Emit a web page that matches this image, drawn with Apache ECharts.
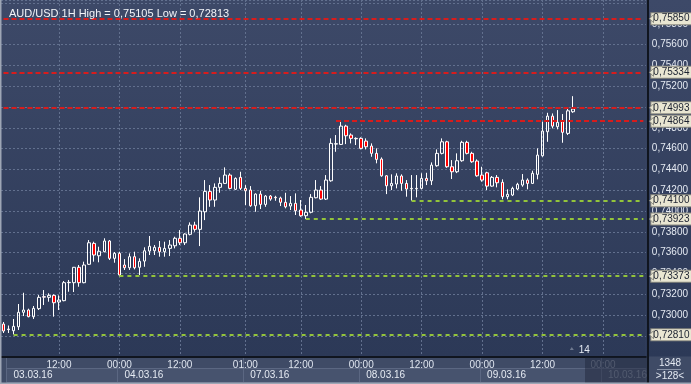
<!DOCTYPE html>
<html><head><meta charset="utf-8">
<script src="https://cdn.jsdelivr.net/npm/echarts@6/dist/echarts.min.js"></script>
<style>html,body{margin:0;padding:0;background:#3f4b66;overflow:hidden}#c{width:691px;height:384px}</style>
</head><body><div id="c"></div>
<script>
// ---- data ----
const titleText = 'AUD/USD 1H High = 0,75105 Low = 0,72813';
const slotCount = 128;            // hourly slots on the time axis (incl. empty future)
const tickIdx  = [11, 23, 35, 48, 59, 71, 83, 95, 107, 119];
const tickText = ['12:00','00:00','12:00','01:00','12:00','00:00','12:00','00:00','12:00','00:00'];
const dayStartIdx = [1, 23, 48, 71, 95, 119];
const dayText = ['03.03.16','04.03.16','07.03.16','08.03.16','09.03.16','10.03.16'];
const futureIdx = 116;
// candles: [open, close, low, high]
const candles = [
[0.72913,0.72846,0.72827,0.72933],[0.72865,0.72860,0.72827,0.72899],[0.72849,0.72891,0.72813,0.72962],
[0.72887,0.73026,0.72856,0.73106],[0.73026,0.73048,0.72990,0.73214],[0.73048,0.72984,0.72978,0.73061],
[0.72984,0.73064,0.72962,0.73087],[0.73061,0.73170,0.73048,0.73192],[0.73176,0.73172,0.73096,0.73240],
[0.73170,0.73189,0.73128,0.73209],[0.73189,0.73118,0.72984,0.73199],[0.73125,0.73144,0.73048,0.73189],
[0.73138,0.73311,0.73132,0.73327],[0.73311,0.73314,0.73224,0.73337],[0.73311,0.73459,0.73221,0.73462],
[0.73459,0.73311,0.73272,0.73481],[0.73311,0.73481,0.73305,0.73513],[0.73488,0.73695,0.73481,0.73721],
[0.73689,0.73577,0.73513,0.73705],[0.73570,0.73613,0.73507,0.73657],[0.73609,0.73712,0.73603,0.73738],
[0.73712,0.73545,0.73529,0.73721],[0.73545,0.73593,0.73503,0.73606],[0.73593,0.73385,0.73373,0.73609],
[0.73481,0.73455,0.73433,0.73538],[0.73455,0.73561,0.73433,0.73593],[0.73561,0.73455,0.73439,0.73609],
[0.73459,0.73516,0.73385,0.73545],[0.73519,0.73618,0.73464,0.73651],[0.73615,0.73661,0.73577,0.73760],
[0.73618,0.73651,0.73577,0.73673],[0.73651,0.73609,0.73561,0.73712],[0.73609,0.73641,0.73561,0.73705],
[0.73641,0.73673,0.73567,0.73721],[0.73666,0.73738,0.73641,0.73753],[0.73738,0.73695,0.73673,0.73817],
[0.73695,0.73779,0.73673,0.73786],[0.73776,0.73865,0.73766,0.73891],[0.73865,0.73824,0.73801,0.73897],
[0.73824,0.74000,0.73663,0.74132],[0.73993,0.74189,0.73913,0.74298],[0.74189,0.74106,0.74041,0.74250],
[0.74106,0.74228,0.74041,0.74266],[0.74228,0.74266,0.74176,0.74324],[0.74266,0.74346,0.74260,0.74420],
[0.74346,0.74218,0.74209,0.74363],[0.74209,0.74314,0.74202,0.74324],[0.74324,0.74218,0.74202,0.74378],
[0.74218,0.74195,0.74058,0.74250],[0.74202,0.74051,0.74041,0.74240],[0.74051,0.74163,0.73993,0.74170],
[0.74163,0.74064,0.74019,0.74195],[0.74064,0.74144,0.74041,0.74154],[0.74144,0.74115,0.74099,0.74154],
[0.74132,0.74128,0.74099,0.74147],[0.74125,0.74084,0.74048,0.74138],[0.74084,0.74041,0.74026,0.74176],
[0.74048,0.74074,0.74010,0.74144],[0.74074,0.74003,0.73962,0.74170],[0.74010,0.73955,0.73945,0.74106],
[0.73955,0.73988,0.73923,0.74058],[0.73988,0.74132,0.73978,0.74163],[0.74128,0.74202,0.74122,0.74298],
[0.74202,0.74115,0.74106,0.74240],[0.74115,0.74298,0.74106,0.74346],[0.74291,0.74651,0.74282,0.74699],
[0.74644,0.74648,0.74570,0.74731],[0.74641,0.74817,0.74635,0.74864],[0.74817,0.74724,0.74644,0.74830],
[0.74731,0.74699,0.74651,0.74747],[0.74699,0.74695,0.74635,0.74709],[0.74699,0.74603,0.74593,0.74709],
[0.74673,0.74618,0.74593,0.74699],[0.74625,0.74555,0.74522,0.74651],[0.74555,0.74497,0.74459,0.74603],
[0.74500,0.74339,0.74330,0.74516],[0.74339,0.74243,0.74163,0.74346],[0.74243,0.74266,0.74202,0.74353],
[0.74260,0.74337,0.74218,0.74363],[0.74337,0.74266,0.74195,0.74353],[0.74266,0.74212,0.74138,0.74298],
[0.74218,0.74214,0.74100,0.74346],[0.74214,0.74218,0.74132,0.74346],[0.74218,0.74314,0.74209,0.74363],
[0.74314,0.74291,0.74250,0.74368],[0.74291,0.74442,0.74250,0.74468],[0.74436,0.74555,0.74426,0.74593],
[0.74555,0.74666,0.74545,0.74699],[0.74666,0.74426,0.74416,0.74676],[0.74426,0.74378,0.74308,0.74490],
[0.74378,0.74484,0.74365,0.74555],[0.74484,0.74661,0.74474,0.74676],[0.74661,0.74555,0.74545,0.74676],
[0.74555,0.74474,0.74464,0.74570],[0.74481,0.74339,0.74330,0.74497],[0.74346,0.74298,0.74282,0.74426],
[0.74368,0.74240,0.74202,0.74378],[0.74240,0.74324,0.74234,0.74337],[0.74324,0.74272,0.74228,0.74346],
[0.74276,0.74138,0.74113,0.74305],[0.74138,0.74161,0.74113,0.74209],[0.74154,0.74218,0.74144,0.74234],
[0.74212,0.74257,0.74202,0.74272],[0.74250,0.74298,0.74234,0.74356],[0.74298,0.74266,0.74209,0.74314],
[0.74266,0.74363,0.74260,0.74388],[0.74353,0.74538,0.74305,0.74603],[0.74532,0.74769,0.74522,0.74859],
[0.74763,0.74913,0.74666,0.74945],[0.74913,0.74817,0.74795,0.74939],[0.74811,0.74853,0.74786,0.74971],
[0.74859,0.74757,0.74657,0.74933],[0.74747,0.74964,0.74731,0.74988],[0.74955,0.74981,0.74945,0.75105]
];
const levelValues = [0.75850, 0.75334, 0.74993, 0.74864, 0.74100, 0.73923, 0.73373, 0.72810];
const levelStart  = [0, 0, 0, 66, 81, 60, 23, 2];
const levelKind   = ['r','r','r','r','g','g','g','g'];
const yMin = 0.726, yMax = 0.7603, yStep = 0.002, yTopLabel = 0.758;
const barCountText = '1348', visibleText = '>128<', markerText = '14';

// ---- chart ----
const FONT = '"Liberation Sans", Arial, sans-serif';
const cats = Array.from({length: slotCount}, (_, i) => 'h' + i);
const fmtPrice = v => v.toFixed(5).replace('.', ',');
const onStep = v => Math.abs(Math.round(v / yStep) * yStep - v) < 1e-7;
const plotGrad = {type:'linear', x:0, y:0, x2:0, y2:1,
  colorStops:[{offset:0,color:'#3d4968'},{offset:1,color:'#2c3957'}]};
const BOX_BG = '#e9e6d2', BOX_BORDER = '#8a8a80';

const markData = levelValues.map((v, k) => {
  const red = levelKind[k] === 'r';
  return [
    {coord:[cats[levelStart[k]], v],
     lineStyle: red ? {color:'#d81c1c', width:2, type:[5,3]} : {color:'#93c43a', width:2, type:[4,4]},
     label:{formatter: fmtPrice(v)}},
    {coord:[cats[slotCount-1], v]}
  ];
});

const chart = echarts.init(document.getElementById('c'), null, {renderer:'canvas'});
const GRID = {left:1, right:45, top:0, bottom:27.4};
chart.setOption({
  animation:false,
  backgroundColor:'#3f4b66',
  textStyle:{fontFamily:FONT},
  title:{text:titleText, left:4, top:3,
    textStyle:{fontSize:11, fontWeight:'normal', color:'#f2f4f8', fontFamily:FONT}},
  grid:Object.assign({show:true, backgroundColor:plotGrad, borderWidth:0}, GRID),
  xAxis:[{
    type:'category', data:cats, boundaryGap:true,
    axisLine:{show:true, lineStyle:{color:'#10151f', width:2}},
    axisTick:{show:false},
    axisLabel:{
      interval:(i)=>tickIdx.indexOf(i) >= 0,
      formatter:(v, i)=>{ const k = tickIdx.indexOf(i); return k === tickIdx.length-1 ? '{d|'+tickText[k]+'}' : tickText[k]; },
      color:'#dfe5ef', fontSize:10, margin:4, fontFamily:FONT,
      rich:{d:{color:'#7c869b', fontSize:10, fontFamily:FONT}}
    },
    splitLine:{show:true, alignWithLabel:true, interval:(i)=>tickIdx.indexOf(i) >= 0,
      lineStyle:{color:'#62708e', width:1, type:[2,2]}}
  },{
    type:'category', data:cats, boundaryGap:true, position:'bottom', offset:12,
    axisLine:{show:false}, axisTick:{show:false}, splitLine:{show:false},
    axisLabel:{
      interval:(i)=>dayStartIdx.indexOf(i) >= 0,
      formatter:(v, i)=>{ const k = dayStartIdx.indexOf(i); return k === dayStartIdx.length-1 ? '{d|'+dayText[k]+'}' : dayText[k]; },
      align:'left', padding:[0,0,0,5], color:'#e6ebf3', fontSize:10, margin:2, fontFamily:FONT,
      rich:{d:{color:'#7c869b', fontSize:10, fontFamily:FONT}}
    }
  }],
  yAxis:{
    type:'value', position:'right', min:yMin, max:yMax, interval:yStep, offset:2, scale:true,
    axisLine:{show:true, lineStyle:{color:'#10151f', width:2}},
    axisTick:{show:false},
    axisLabel:{showMinLabel:false, showMaxLabel:false, margin:4,
      formatter:(v)=> (onStep(v) && v <= yTopLabel + 1e-7) ? fmtPrice(v) : '', color:'#e4e9f2', fontSize:10, fontFamily:FONT},
    splitLine:{show:true, lineStyle:{color:'#62708e', width:1, type:[2,2]}}
  },
  series:[{
    type:'candlestick', data:candles, barWidth:3,
    itemStyle:{color:'transparent', color0:'#ff0000', borderColor:'#ffffff', borderColor0:'#ffffff', borderWidth:1},
    markLine:{
      symbol:['none','none'], silent:true, animation:false,
      label:{show:true, position:'end', distance:8, color:'#1c2230', fontSize:10, fontFamily:FONT,
        backgroundColor:BOX_BG, borderColor:BOX_BORDER, borderWidth:1, padding:[1,2,0,2], lineHeight:10},
      emphasis:{disabled:true},
      data:markData
    }
  }]
});

// decorations positioned through the library's own scales
const px = i => chart.convertToPixel({xAxisIndex:0}, cats[i]);
const py = v => chart.convertToPixel({yAxisIndex:0}, v);
const W = 691, H = 384;
const plotRight = W - GRID.right;
const plotBottom = H - GRID.bottom;
const half = (px(1) - px(0)) / 2;
const g = [];
g.push({type:'rect', z:-1, shape:{x:plotRight, y:0, width:W-plotRight, height:plotBottom}, style:{fill:plotGrad}});
dayStartIdx.forEach((s, k) => {
  const x0 = Math.round(px(s) - half) + 0.5;
  const x1 = k < dayStartIdx.length-1 ? Math.round(px(dayStartIdx[k+1]) - half) + 0.5 : plotRight;
  g.push({type:'rect', z:-1, shape:{x:x0, y:368.5, width:x1-x0, height:14}, style:{fill:'#47536e', stroke:'#5b6782', lineWidth:1}});
  g.push({type:'line', z:-1, shape:{x1:x0, y1:plotBottom, x2:x0, y2:382}, style:{stroke:'#5b6782', lineWidth:1}});
});
// pointer arrows of the level boxes
levelValues.forEach(v => {
  const y = py(v);
  g.push({type:'polygon', z:20, shape:{points:[[plotRight+3.5, y],[plotRight+7.5, y-4],[plotRight+7.5, y+4]]},
    style:{fill:BOX_BG, stroke:BOX_BORDER, lineWidth:1}});
});
const fx = Math.round(px(futureIdx) - half);
g.push({type:'rect', z:5, shape:{x:fx, y:plotBottom+1, width:plotRight+2-fx, height:H-plotBottom-1}, style:{fill:'rgba(28,36,56,0.45)'}});
g.push({type:'line', z:5, shape:{x1:plotRight+2, y1:plotBottom, x2:plotRight+2, y2:H}, style:{stroke:'#10151f', lineWidth:2}});
g.push({type:'text', z:5, style:{text:barCountText, x:670, y:363, align:'center', verticalAlign:'middle', fill:'#e4e9f2', font:'10px '+FONT}});
g.push({type:'line', z:5, shape:{x1:657, y1:369.5, x2:681, y2:369.5}, style:{stroke:'#8a94a8', lineWidth:1}});
g.push({type:'text', z:5, style:{text:visibleText, x:670, y:376, align:'center', verticalAlign:'middle', fill:'#e4e9f2', font:'10px '+FONT}});
const lastX = px(candles.length - 1);
g.push({type:'polygon', z:5, shape:{points:[[lastX-3,350],[lastX+1,350],[lastX-1,347]]}, style:{fill:'#6f7a90'}});
g.push({type:'text', z:5, style:{text:markerText, x:lastX+6, y:350, align:'left', verticalAlign:'middle', fill:'#e4e9f2', font:'10px '+FONT}});
g.push({type:'rect', z:6, shape:{x:0, y:0, width:1.5, height:H}, style:{fill:'#9ea6b5'}});
g.push({type:'rect', z:6, shape:{x:0, y:H-1.5, width:W, height:1.5}, style:{fill:'#9ea6b5'}});
chart.setOption({graphic:g});
</script></body></html>
